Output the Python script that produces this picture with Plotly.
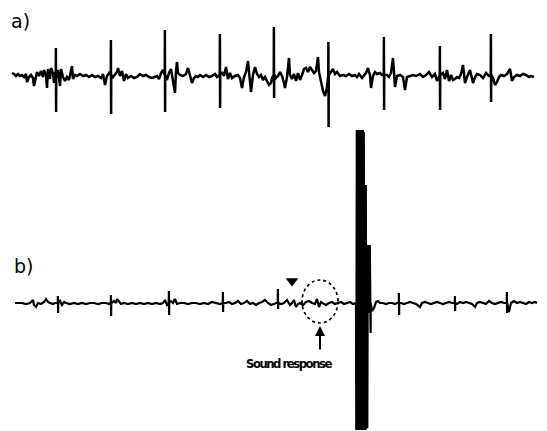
import plotly.graph_objects as go

# ---------------- Trace a) : background activity (time units, amplitude units) ----------------
t_a = [12, 14, 16, 18, 20, 22, 24, 26, 27, 29, 31, 33, 34, 36, 37, 39, 41, 43, 44, 46, 47, 48, 50, 51, 53, 54, 55,
       58, 59, 60, 61, 63, 65, 67, 69, 70, 72, 73, 75, 77, 80, 83, 86, 89, 92, 95, 98, 101, 103, 105, 107, 109,
       113, 115, 117, 118, 120, 122, 124, 126, 128, 131, 134, 137, 140, 143, 146, 149, 152, 155, 157, 159, 161, 163,
       167, 169, 171, 173, 175, 176, 177, 178, 180, 183, 186, 188, 190, 192, 194, 196, 198, 200, 203, 206, 209, 212, 215, 217,
       222, 224, 226, 228, 230, 232, 235, 238, 240, 242, 244, 246, 248, 249, 251, 253, 255, 257, 259, 261, 263, 265, 267, 269, 271, 272,
       276, 278, 280, 282, 284, 285, 287, 289, 290, 292, 294, 296, 298, 300, 302, 304, 306, 308, 310, 312, 314, 316, 318, 319, 321, 323, 325, 327,
       331, 333, 335, 337, 340, 343, 346, 349, 352, 355, 357, 359, 362, 364, 366, 368, 370, 371, 373, 375, 377, 380, 382,
       387, 389, 391, 393, 394, 395, 397, 400, 403, 405, 407, 410, 413, 416, 420, 423, 426, 429, 432, 435, 437,
       443, 445, 447, 449, 451, 453, 455, 457, 459, 461, 463, 464, 465, 467, 470, 473, 475, 477, 480, 483, 486, 489,
       493, 495, 497, 499, 501, 504, 507, 510, 512, 514, 517, 520, 523, 526, 529, 531, 534]
v_a = [2, 1, -1, 1, -1, 0, -2, 1, -7, -2, 0, -3, -11, -3, 3, -1, 4, -2, 5, 0, -13, 6, -4, 7, 2, -8, 3,
       5, -4, -11, 6, -2, -6, -2, -5, 1, 9, -4, 0, -1, 1, -1, 0, -2, 0, -2, -1, -3, 1, -10, -1, 2,
       -2, 0, 3, 7, -1, 4, -6, 1, -3, -1, -3, -2, 1, -1, 0, -2, -3, -2, -1, -4, 2, 5,
       -5, 2, 6, -8, -18, 4, 13, 2, 0, -1, 1, 7, -2, -8, -3, -1, -2, 0, -2, 0, -2, -1, 1, -2,
       3, -1, 8, -4, 2, -3, -1, 0, -3, -13, -2, 3, 14, 2, -17, 0, 8, 1, -2, 0, -5, -2, -7, -10, -8, -3,
       -3, -1, 3, -1, -8, -13, -2, 17, 0, -4, 1, -6, 2, -5, 0, 6, 7, 3, 8, 5, 2, 4, 18, 3, -8, -16, -21, -12,
       3, 6, 1, 3, -1, 0, -1, 1, -1, 0, -2, 1, -3, 0, 2, 7, 0, -13, -1, 3, 1, 2, 0,
       0, -2, 2, 17, 3, -12, -1, 0, -2, -15, -2, -1, 0, -1, 1, -2, 0, 3, -2, 1, -6,
       2, -4, 5, -6, 0, -5, -4, -2, -3, 1, 10, -1, -8, -2, 5, -8, -2, 1, 0, -3, 2, -1,
       -3, -10, -7, -2, 0, -1, 1, 6, -6, -2, 0, -1, 1, 0, -2, -1, -2]

# Spikes of trace a)
spike_t_a = [56, 111, 165, 220, 274, 328.5, 384, 440, 491]
spike_up_a = [27, 35, 45, 41, 48, 33, 38, 29, 41]
spike_dn_a = [-37, -39, -37, -33, -23, -52, -35, -35, -27]

# ---------------- Trace b) ----------------
t_b = [15, 18, 22, 26, 30, 33, 34, 36, 38, 41, 44, 46, 48, 50, 53, 55,
       60, 62, 64, 66, 70, 74, 78, 82, 86, 90, 94, 98, 102, 106, 109,
       114, 116, 117, 119, 121, 124, 128, 132, 136, 140, 144, 148, 152, 156, 160, 163, 165, 167,
       171, 173, 175, 177, 180, 184, 188, 192, 196, 200, 204, 208, 212, 216, 220,
       226, 229, 232, 235, 238, 241, 244, 247, 250, 253, 256, 259, 262, 265, 268, 271, 274, 276,
       281, 284, 287, 290, 292, 294, 296, 298, 300, 303, 306, 309, 312, 315, 317, 319, 321, 323, 326, 329,
       332, 335, 338, 341, 344, 347, 350, 353, 355,
       372, 374, 376, 378, 380, 383, 386, 389, 392, 395, 397,
       401, 404, 407, 410, 413, 416, 420, 422, 425, 428, 431, 434, 437, 440, 443, 446, 449, 452,
       457, 460, 463, 466, 469, 472, 475, 477, 480, 483, 486, 489, 492, 495, 498, 501, 504,
       509, 511, 514, 517, 520, 523, 526, 529, 532, 535, 537]
v_b = [0, 0, 0, -1, 0, 3, -2, -4, 0, -1, 1, 4, 1, 0, -1, 0,
       2, -2, 1, 0, -1, 0, -1, 0, -1, 0, 0, -1, 0, 0, -1,
       2, 0, 4, 1, -1, 0, -1, 0, -1, 0, -1, 0, -1, 0, -1, 0, 3, -2,
       2, 0, 4, -1, 0, 0, -1, 0, 0, -1, 0, -1, 1, 0, -1,
       0, 1, -1, 0, 2, -1, 0, 2, -1, 0, -2, 0, 1, 3, 0, -2, -1, 0,
       -1, 0, 3, -2, 0, 3, -4, -1, 0, -2, 1, 2, 0, -1, 4, -4, 1, 0, -2, 0,
       1, -1, 0, 1, -1, 0, 1, -1, 0,
       -8, -5, 1, 2, 0, 0, -1, 0, 0, -1, 0,
       0, -1, 0, 1, 0, -1, -4, 0, 1, 0, -1, 0, 1, 0, -1, 0, 1, 0,
       -1, 1, 0, 1, 0, -1, -4, 0, 1, 0, -1, 2, 0, -1, 0, 1, 0,
       -9, 0, 2, 0, 1, 0, -1, 1, 0, 1, 0]

spike_t_b = [58, 111, 169, 223, 278, 370.5, 399, 455, 507]
spike_up_b = [7, 8, 12, 11, 14, 0, 10, 7, 11]
spike_dn_b = [-10, -13, -12, -9, -6, -30, -12, -8, -10]

# Saturated artefact burst in trace b)
burst_t = [356.0, 356.3, 356.8, 357.3, 357.8, 358.3, 358.8, 359.3, 359.8, 360.3, 360.8, 361.3, 361.8,
           362.3, 362.8, 363.3, 363.8, 364.3, 364.8, 365.3, 365.8, 366.3, 366.8, 367.3, 367.8,
           368.3, 368.8, 369.3, 369.8, 370.0]
burst_v = [0, -127, 173, -125, 173, -127, 173, -126, 173, -127, 173, -125, 173,
           -127, 173, -126, 171, -127, 118, -127, 118, -126, 58, -125, 58,
           -10, 58, -5, 58, 0]


def merge(t, v, st, su, sd):
    pts = list(zip(t, v))
    for s, u, d in zip(st, su, sd):
        pts.append((s - 0.25, 0))
        pts.append((s - 0.1, u))
        pts.append((s + 0.1, d))
        pts.append((s + 0.25, 0))
    pts.sort(key=lambda p: p[0])
    return [p[0] for p in pts], [p[1] for p in pts]


xa, ya = merge(t_a, v_a, spike_t_a, spike_up_a, spike_dn_a)
xb, yb = merge(t_b + burst_t, v_b + burst_v, spike_t_b, spike_up_b, spike_dn_b)

fig = go.Figure()
fig.add_trace(go.Scatter(x=xa, y=ya, mode="lines", line=dict(color="black", width=2.5),
                         hoverinfo="skip", yaxis="y"))
fig.add_trace(go.Scatter(x=xb, y=yb, mode="lines", line=dict(color="black", width=2.2),
                         hoverinfo="skip", yaxis="y2"))

# stimulus marker (triangle)
stim_t = [292]
stim_v = [22]
fig.add_trace(go.Scatter(x=stim_t, y=stim_v, mode="markers", yaxis="y2",
                         marker=dict(symbol="triangle-down", size=11, color="black"),
                         hoverinfo="skip"))

fig.add_shape(type="circle", xref="x", yref="y2", x0=302, x1=338, y0=-20, y1=23,
              line=dict(color="black", width=1.7, dash="dot"))

fig.add_annotation(x=320, y=-23, xref="x", yref="y2", ax=320, ay=-48, axref="x", ayref="y2",
                   text="", showarrow=True, arrowhead=2, arrowsize=1, arrowwidth=2, arrowcolor="black")
fig.add_annotation(x=289, y=-60, xref="x", yref="y2",
                   text="<span style='letter-spacing:-1.5px'>Sound response</span>",
                   showarrow=False,
                   font=dict(family="DejaVu Sans Condensed, Liberation Sans Narrow, Liberation Sans, sans-serif",
                             size=13, color="black", weight=600))

fig.add_annotation(x=9 / 547, y=1 - 8 / 431, xref="paper", yref="paper", xanchor="left", yanchor="top",
                   text="a)", showarrow=False,
                   font=dict(family="DejaVu Sans, sans-serif", size=19, color="black"))
fig.add_annotation(x=12 / 547, y=1 - 253 / 431, xref="paper", yref="paper", xanchor="left", yanchor="top",
                   text="b)", showarrow=False,
                   font=dict(family="DejaVu Sans, sans-serif", size=19, color="black"))

fig.update_layout(
    width=547, height=431, margin=dict(l=0, r=0, t=0, b=0, pad=0),
    paper_bgcolor="white", plot_bgcolor="white", showlegend=False,
    xaxis=dict(range=[0, 547], visible=False, fixedrange=True),
    yaxis=dict(range=[-356, 75], visible=False, fixedrange=True),
    yaxis2=dict(range=[-128, 303], visible=False, overlaying="y", fixedrange=True),
)

fig.write_html("out.html", post_script="document.body.style.margin='0';",
               config={"displayModeBar": False})
